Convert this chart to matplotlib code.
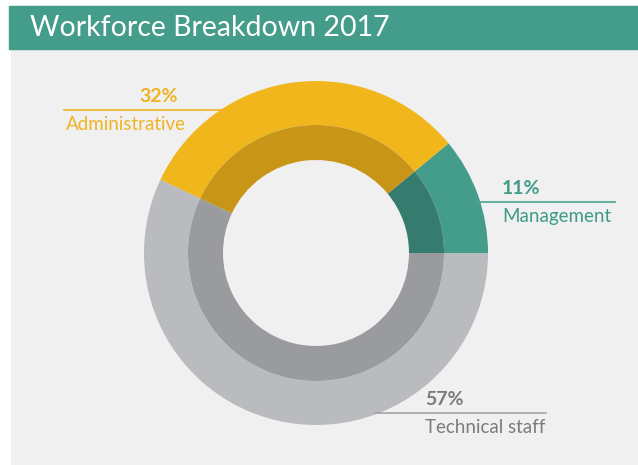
"""Workforce Breakdown 2017 — two-tone donut chart with leader-line labels."""
import numpy as np
import matplotlib
matplotlib.use("Agg")
import matplotlib.pyplot as plt
from matplotlib.patches import Rectangle

# ---- data (counter-clockwise from 3 o'clock) ----
categories = ["Management", "Administrative", "Technical staff"]
shares = [11, 32, 57]
outer_colors = ["#449c8a", "#f0b61c", "#babbbe"]
inner_colors = ["#357c6e", "#c89517", "#9a9b9e"]
text_colors = ["#3f9a87", "#f0b323", "#7a7b7e"]
line_colors = ["#4aa28f", "#f0b323", "#a3a4a6"]

W, H = 638, 465
BG = "#eff0ef"
TEAL = "#449c8a"
FONT = ["Lato", "DejaVu Sans"]

fig = plt.figure(figsize=(W / 100, H / 100), dpi=100)
ax = fig.add_axes([0, 0, 1, 1])

# panel background + title bar (pixel coords, y measured from bottom)
ax.add_patch(Rectangle((11, 0), W - 11, H - 6, color=BG, zorder=0))
ax.add_patch(Rectangle((9, H - 49), W - 9, 43, color=TEAL, zorder=1))
ax.text(30, H - 28, "Workforce Breakdown 2017", color="white", fontsize=20.5,
        family=FONT, weight="normal", va="center", ha="left", zorder=2)

# donut geometry
cx, cy = 316, H - 253
r_out, r_mid, r_in = 172, 128, 93

ax.pie(shares, colors=outer_colors, radius=r_out, center=(cx, cy),
       startangle=0, counterclock=True,
       wedgeprops=dict(width=r_out - r_mid, edgecolor="none"), frame=True)
ax.pie(shares, colors=inner_colors, radius=r_mid, center=(cx, cy),
       startangle=0, counterclock=True,
       wedgeprops=dict(width=r_mid - r_in, edgecolor="none"), frame=True)
ax.set_xlim(0, W)
ax.set_ylim(0, H)
ax.set_aspect("equal")
ax.axis("off")

# label layout: text x, leader line y (px from top), line outer end, side
label_pos = {
    "Management": dict(x=502, y=202, x_end=615, side="right"),
    "Administrative": dict(x=66, y=110, x_end=64, side="left"),
    "Technical staff": dict(x=425, y=413, x_end=546, side="right"),
}

for cat, val, tc, lc in zip(categories, shares, text_colors, line_colors):
    p = label_pos[cat]
    ly = H - p["y"]
    dx = np.sqrt(r_out ** 2 - (p["y"] - 253) ** 2)
    if p["side"] == "right":
        x0 = cx + dx - 4
        ax.plot([x0, p["x_end"]], [ly, ly], color=lc, lw=1.2, zorder=3)
        ax.text(p["x"], ly + 5, f"{val}%", color=tc, fontsize=14, weight="bold",
                family=FONT, ha="left", va="bottom", zorder=3)
    else:
        x0 = cx - dx + 4
        ax.plot([p["x_end"], x0], [ly, ly], color=lc, lw=1.2, zorder=3)
        ax.text(178, ly + 5, f"{val}%", color=tc, fontsize=14, weight="bold",
                family=FONT, ha="right", va="bottom", zorder=3)
    ax.text(p["x"], ly - 6, cat, color=tc, fontsize=13.5, weight="normal",
            family=FONT, ha="left", va="top", zorder=3)

fig.savefig("out.png", dpi=100)
